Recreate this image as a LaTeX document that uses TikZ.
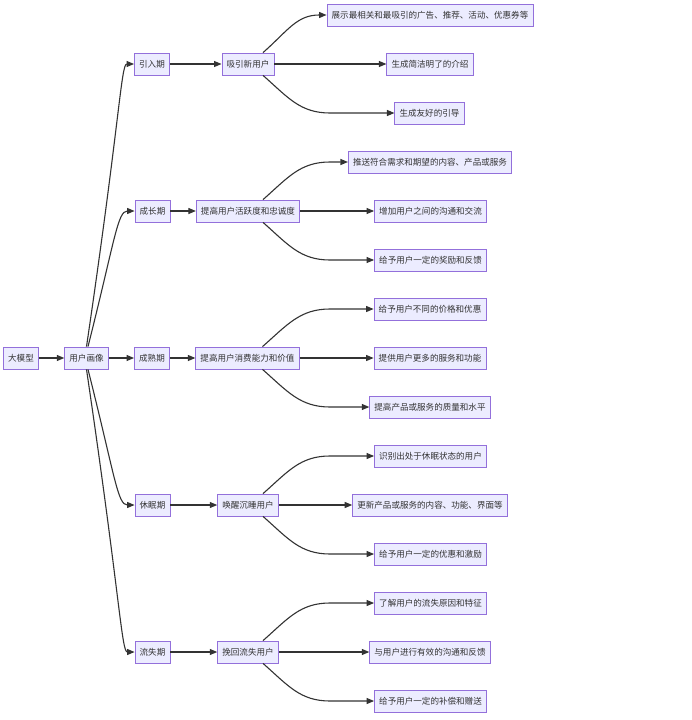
\documentclass[tikz,border=0pt]{standalone}
\usepackage{fontspec}
\setmainfont{Noto Sans CJK SC}
\usetikzlibrary{arrows.meta}
\definecolor{nfill}{HTML}{ECECFF}
\definecolor{nline}{HTML}{9370DB}
\definecolor{ink}{HTML}{333333}
\tikzset{
  box/.style={draw=nline, fill=nfill, line width=0.8pt, minimum height=22pt, inner xsep=4.7pt, inner ysep=0pt,
    font=\fontsize{8.55pt}{10pt}\selectfont, text=ink, anchor=center},
  link/.style={draw=ink, line width=1.1pt, -{Triangle[length=7.5pt,width=6pt]}}
}
\begin{document}
\begin{tikzpicture}[x=1pt,y=-1pt]
\useasboundingbox (0,0) rectangle (691,720);
\coordinate (xb) at (330,0);
% nodes
\node[box] (big) at (21,358) {大模型};
\node[box] (up) at (86.5,358) {用户画像};
\node[box] (s1) at (152,64) {引入期};
\node[box] (s2) at (152.5,211) {成长期};
\node[box] (s3) at (152,358) {成熟期};
\node[box] (s4) at (152.5,505) {休眠期};
\node[box] (s5) at (152.5,652) {流失期};
\node[box] (g1) at (248,64) {吸引新用户};
\node[box] (g2) at (248,211) {提高用户活跃度和忠诚度};
\node[box] (g3) at (247.5,358) {提高用户消费能力和价值};
\node[box] (g4) at (248,505) {唤醒沉睡用户};
\node[box] (g5) at (248,652) {挽回流失用户};
\node[box] (l11) at (430,15) {展示最相关和最吸引的广告、推荐、活动、优惠券等};
\node[box] (l12) at (430,64) {生成简洁明了的介绍};
\node[box] (l13) at (429.5,113) {生成友好的引导};
\node[box] (l21) at (430,162) {推送符合需求和期望的内容、产品或服务};
\node[box] (l22) at (430.5,211) {增加用户之间的沟通和交流};
\node[box] (l23) at (430.5,260) {给予用户一定的奖励和反馈};
\node[box] (l31) at (430,309) {给予用户不同的价格和优惠};
\node[box] (l32) at (430,358) {提供用户更多的服务和功能};
\node[box] (l33) at (430,407) {提高产品或服务的质量和水平};
\node[box] (l41) at (430.5,456) {识别出处于休眠状态的用户};
\node[box] (l42) at (430,505) {更新产品或服务的内容、功能、界面等};
\node[box] (l43) at (430.5,554) {给予用户一定的优惠和激励};
\node[box] (l51) at (430.5,603) {了解用户的流失原因和特征};
\node[box] (l52) at (430,652) {与用户进行有效的沟通和反馈};
\node[box] (l53) at (430.5,701) {给予用户一定的补偿和赠送};
% edges
\draw[link] (big) -- (up);
\draw[link] (up.north) .. controls +(33.5,-227) and +(-13,0) .. (s1.west);
\draw[link] ([xshift=1.5pt]up.north) .. controls +(27,-107) and +(-17,0) .. (s2.west);
\draw[link] (up) -- (s3);
\draw[link] ([xshift=1.5pt]up.south) .. controls +(27,107) and +(-17,0) .. (s4.west);
\draw[link] (up.south) .. controls +(33.5,227) and +(-13,0) .. (s5.west);
\foreach \i in {1,...,5}{
  \draw[link] (s\i) -- (g\i);
}
\draw[link] ([xshift=15pt]g1.north) .. controls +(25,-22) and +(-30,0) .. (l11.west);
\draw[link] (g1) -- (l12);
\draw[link] ([xshift=15pt]g1.south) .. controls +(25,22) and +(-30,0) .. (l13.west -| xb) -- (l13.west);
\foreach \i in {2,...,5}{
  \draw[link] ([xshift=15pt]g\i.north) .. controls +(25,-22) and +(-30,0) .. (l\i1.west -| xb) -- (l\i1.west);
  \draw[link] (g\i) -- (l\i2);
  \draw[link] ([xshift=15pt]g\i.south) .. controls +(25,22) and +(-30,0) .. (l\i3.west -| xb) -- (l\i3.west);
}
\end{tikzpicture}
\end{document}
